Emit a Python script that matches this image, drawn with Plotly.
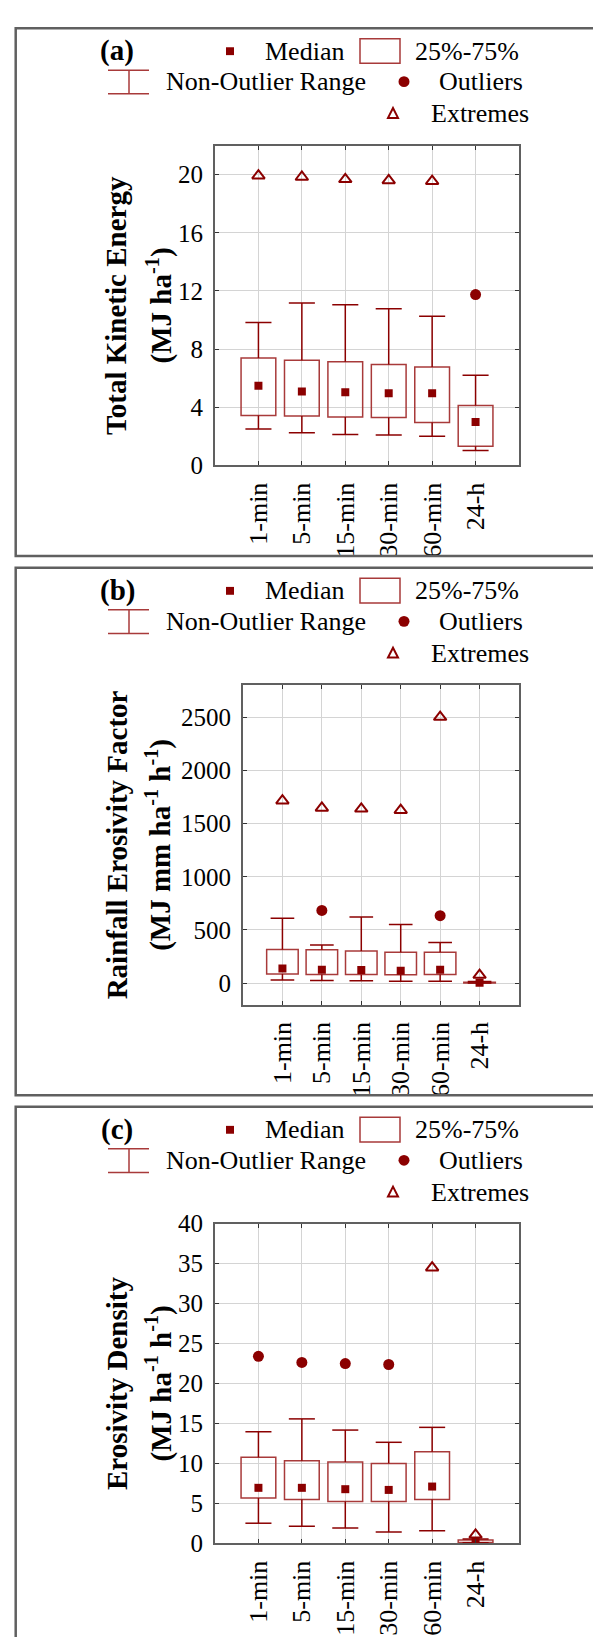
import plotly.graph_objects as go

W, H = 601, 1637
FONT = "Liberation Serif"
DARK = "#8B0000"
BOXC = "#a83a3a"

categories = ["1-min", "5-min", "15-min", "30-min", "60-min", "24-h"]

# Panel (a): Total Kinetic Energy
tke_lower = [2.49, 2.24, 2.12, 2.08, 1.99, 1.02]
tke_q1 = [3.43, 3.39, 3.32, 3.28, 2.94, 1.31]
tke_median = [5.47, 5.08, 5.02, 4.95, 4.95, 2.98]
tke_q3 = [7.39, 7.23, 7.12, 6.94, 6.76, 4.11]
tke_upper = [9.83, 11.16, 11.05, 10.78, 10.26, 6.19]
tke_outliers = [None, None, None, None, None, 11.75]
tke_extremes = [19.93, 19.84, 19.68, 19.60, 19.55, None]

# Panel (b): Rainfall Erosivity Factor
rf_lower = [31, 25, 22, 18, 18, 1]
rf_q1 = [86, 83, 83, 80, 83, 2]
rf_median = [139, 126, 123, 117, 126, 5]
rf_q3 = [317, 314, 302, 292, 292, 10]
rf_upper = [610, 360, 622, 551, 382, 15]
rf_outliers = [None, 684, None, None, 634, None]
rf_extremes = [1715, 1647, 1638, 1626, 2500, 77]

# Panel (c): Erosivity Density
ed_lower = [2.51, 2.13, 1.91, 1.40, 1.57, 0.05]
ed_q1 = [5.66, 5.49, 5.23, 5.23, 5.49, 0.10]
ed_median = [6.94, 6.94, 6.77, 6.68, 7.10, 0.20]
ed_q3 = [10.77, 10.34, 10.17, 10.00, 11.45, 0.40]
ed_upper = [13.96, 15.57, 14.17, 12.64, 14.51, 0.55]
ed_outliers = [23.40, 22.64, 22.50, 22.38, None, None]
ed_extremes = [None, None, None, None, 34.5, 1.06]

tke_ticks = [0, 4, 8, 12, 16, 20]
rf_ticks = [0, 500, 1000, 1500, 2000, 2500]
ed_ticks = [0, 5, 10, 15, 20, 25, 30, 35, 40]


def fx(px):
    return px / W


def fy(py):
    return 1 - py / H


panels = [
    dict(tag="(a)", top=7.3, xd=(207, 511), yd=(126.7, 451.7), yr=[0, 22], ticks=tke_ticks,
         lower=tke_lower, q1=tke_q1, med=tke_median, q3=tke_q3, upper=tke_upper,
         out=tke_outliers, ext=tke_extremes,
         t1="Total Kinetic Energy", t2="(MJ ha<sup>-1</sup>)"),
    dict(tag="(b)", top=556, xd=(235, 511), yd=(675.3, 1000), yr=[-200, 2800], ticks=rf_ticks,
         lower=rf_lower, q1=rf_q1, med=rf_median, q3=rf_q3, upper=rf_upper,
         out=rf_outliers, ext=rf_extremes,
         t1="Rainfall Erosivity Factor", t2="(MJ mm ha<sup>-1</sup> h<sup>-1</sup>)"),
    dict(tag="(c)", top=1104, xd=(207, 511), yd=(1222.9, 1547.8), yr=[0, 40], ticks=ed_ticks,
         lower=ed_lower, q1=ed_q1, med=ed_median, q3=ed_q3, upper=ed_upper,
         out=ed_outliers, ext=ed_extremes,
         t1="Erosivity Density", t2="(MJ ha<sup>-1</sup> h<sup>-1</sup>)"),
]

fig = go.Figure()
layout = dict(width=W, height=H, margin=dict(l=0, r=0, t=0, b=0),
              paper_bgcolor="white", plot_bgcolor="white", showlegend=False,
              barmode="overlay", font=dict(family=FONT, color="black", size=25))
shapes = []
annotations = []
idx = list(range(len(categories)))

for k, p in enumerate(panels):
    n = "" if k == 0 else str(k + 1)
    xa, ya = "x" + n, "y" + n
    # box (IQR)
    fig.add_trace(go.Bar(x=idx, base=p["q1"], y=[b - a for a, b in zip(p["q1"], p["q3"])],
                         width=0.8, marker=dict(color="rgba(0,0,0,0)", line=dict(color=BOXC, width=1.5)),
                         xaxis=xa, yaxis=ya))
    # whiskers
    wx, wy = [], []
    for i in idx:
        wx += [i, i, None, i - 0.3, i + 0.3, None, i, i, None, i - 0.3, i + 0.3, None]
        wy += [p["q3"][i], p["upper"][i], None, p["upper"][i], p["upper"][i], None,
               p["q1"][i], p["lower"][i], None, p["lower"][i], p["lower"][i], None]
    fig.add_trace(go.Scatter(x=wx, y=wy, mode="lines", line=dict(color=DARK, width=1.5),
                             xaxis=xa, yaxis=ya))
    fig.add_trace(go.Scatter(x=idx, y=p["med"], mode="markers",
                             marker=dict(symbol="square", size=8, color=DARK), xaxis=xa, yaxis=ya))
    fig.add_trace(go.Scatter(x=idx, y=p["out"], mode="markers",
                             marker=dict(symbol="circle", size=11, color=DARK), xaxis=xa, yaxis=ya))
    fig.add_trace(go.Scatter(x=idx, y=p["ext"], mode="markers",
                             marker=dict(symbol="triangle-up-open", size=11, color=DARK,
                                         line=dict(width=2, color=DARK)), xaxis=xa, yaxis=ya))

    axcommon = dict(showline=True, linecolor="#606060", linewidth=2, mirror="ticks",
                    ticks="inside", ticklen=4, tickcolor="#333", showgrid=True,
                    gridcolor="#d4d4d4", gridwidth=1, zeroline=False)
    layout["xaxis" + n] = dict(domain=[fx(p["xd"][0]), fx(p["xd"][1])], anchor=ya,
                               range=[-1, 6], tickvals=idx, ticktext=categories,
                               tickangle=-90, ticklabelstandoff=5,
                               tickfont=dict(family=FONT, size=26, color="black"), **axcommon)
    layout["yaxis" + n] = dict(domain=[fy(p["yd"][1]), fy(p["yd"][0])], anchor=xa,
                               range=p["yr"], tickvals=p["ticks"], ticklabelstandoff=5,
                               tickfont=dict(family=FONT, size=25, color="black"), **axcommon)

    # panel frame (right/bottom of last panel run off the page)
    top = p["top"]
    bottom = {0: 544, 1: 1092.3, 2: 1700}[k]
    shapes.append(dict(type="rect", xref="paper", yref="paper",
                       x0=fx(7.7), x1=fx(640), y0=fy(bottom), y1=fy(top),
                       line=dict(color="#606060", width=2.5), fillcolor="rgba(0,0,0,0)"))

    # y-axis title lines
    cy = (p["yd"][0] + p["yd"][1]) / 2
    annotations.append(dict(xref="paper", yref="paper", x=fx(108.5), y=fy(cy), text="<b>" + p["t1"] + "</b>",
                            textangle=-90, showarrow=False, xanchor="center", yanchor="middle",
                            font=dict(family=FONT, size=29, color="black")))
    annotations.append(dict(xref="paper", yref="paper", x=fx(151), y=fy(cy), text="<b>" + p["t2"] + "</b>",
                            textangle=-90, showarrow=False, xanchor="center", yanchor="middle",
                            font=dict(family=FONT, size=29, color="black")))

    # panel tag and legend
    r1, r2, r3 = top + 23.4, top + 54.4, top + 86.7
    annotations.append(dict(xref="paper", yref="paper", x=fx(109), y=fy(top + 22.7), text="<b>" + p["tag"] + "</b>",
                            showarrow=False, xanchor="center", yanchor="middle",
                            font=dict(family=FONT, size=29, color="black")))
    for txt, cx, cyy in [("Median", 296.5, r1), ("25%-75%", 459, r1),
                         ("Non-Outlier Range", 257.5, r2), ("Outliers", 472.5, r2),
                         ("Extremes", 471.5, r3)]:
        annotations.append(dict(xref="paper", yref="paper", x=fx(cx), y=fy(cyy), text=txt,
                                showarrow=False, xanchor="center", yanchor="middle",
                                font=dict(family=FONT, size=26, color="black")))
    # legend symbols
    shapes.append(dict(type="rect", xref="paper", yref="paper", x0=fx(218), x1=fx(226),
                       y0=fy(r1 + 4), y1=fy(r1 - 4), fillcolor=DARK, line=dict(width=0)))
    shapes.append(dict(type="rect", xref="paper", yref="paper", x0=fx(352), x1=fx(392),
                       y0=fy(top + 35.7), y1=fy(top + 10.7), fillcolor="rgba(0,0,0,0)",
                       line=dict(color=BOXC, width=1.5)))
    for (x0, y0, x1, y1) in [(100, top + 42.7, 141, top + 42.7), (100, top + 66.7, 141, top + 66.7),
                             (121, top + 42.7, 121, top + 66.7)]:
        shapes.append(dict(type="line", xref="paper", yref="paper", x0=fx(x0), x1=fx(x1),
                           y0=fy(y0), y1=fy(y1), line=dict(color=BOXC, width=1.5)))
    shapes.append(dict(type="circle", xref="paper", yref="paper", x0=fx(390.5), x1=fx(401.5),
                       y0=fy(r2 + 5.5), y1=fy(r2 - 5.5), fillcolor=DARK, line=dict(width=0)))
    tx, ty = 385, r3
    path = "M {} {} L {} {} L {} {} Z".format(fx(tx - 5), fy(ty + 4.5), fx(tx + 5), fy(ty + 4.5),
                                               fx(tx), fy(ty - 5.5))
    shapes.append(dict(type="path", xref="paper", yref="paper", path=path,
                       fillcolor="rgba(0,0,0,0)", line=dict(color=DARK, width=2)))

layout["shapes"] = shapes
layout["annotations"] = annotations
fig.update_layout(**layout)
fig.write_html("out.html")
